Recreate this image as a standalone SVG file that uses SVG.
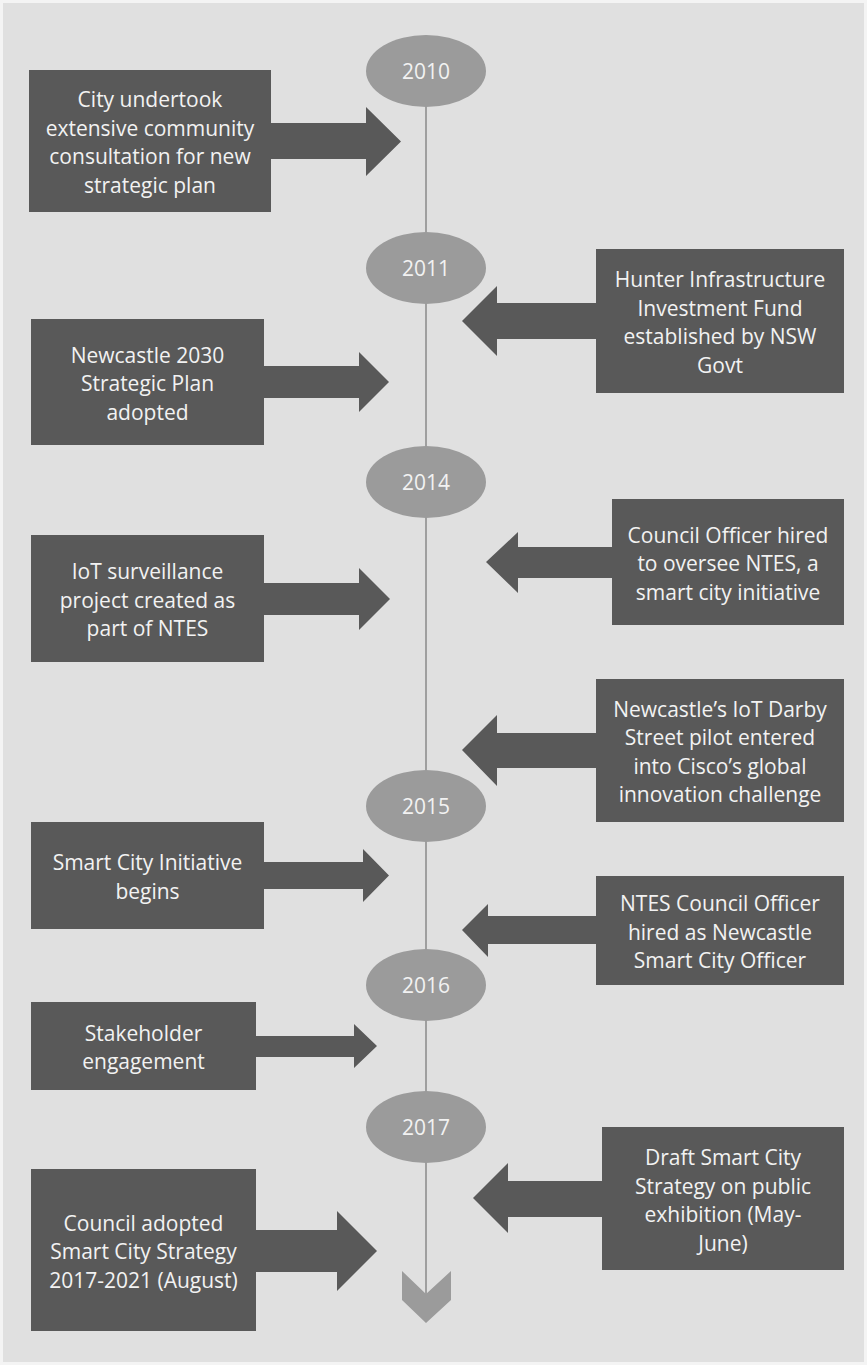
<svg xmlns="http://www.w3.org/2000/svg" width="867" height="1365" viewBox="0 0 867 1365">
<style>
.box{fill:#595959}
.arr{fill:#595959}
.yr{fill:#9b9b9b}
.tl{stroke:#8a8a8a;stroke-width:1.5;fill:none}
.chev{fill:#9b9b9b}
text{font-family:"Open Sans","Noto Sans","DejaVu Sans",sans-serif;font-size:21px;fill:#f2f2f2;text-anchor:middle}
</style>
<rect x="0" y="0" width="867" height="1365" fill="#f4f4f4"/>
<rect x="3" y="3" width="861" height="1359" fill="#e0e0e0"/>

<g id="connectors">
  <line class="tl" x1="426" y1="100" x2="426" y2="1294"/>
  <polygon class="chev" points="402,1271 426,1294 451,1271 451,1300 426,1323 402,1300"/>
  <polygon class="arr" points="271,123 366,123 366,107 401,141.5 366,176 366,159 271,159"/>
  <polygon class="arr" points="264,366 359,366 359,352 389,382 359,412 359,398 264,398"/>
  <polygon class="arr" points="264,583 359,583 359,568 390,599 359,630 359,615 264,615"/>
  <polygon class="arr" points="264,862 363,862 363,849 389,875.5 363,902 363,889 264,889"/>
  <polygon class="arr" points="256,1036 354,1036 354,1024 377,1046 354,1068 354,1057 256,1057"/>
  <polygon class="arr" points="256,1230 337,1230 337,1211 377,1251 337,1291 337,1272 256,1272"/>
  <polygon class="arr" points="596,303 497,303 497,286 462,321 497,356 497,339 596,339"/>
  <polygon class="arr" points="612,547 518,547 518,532 486,562 518,593 518,578 612,578"/>
  <polygon class="arr" points="596,733 497,733 497,715 462,750 497,786 497,768 596,768"/>
  <polygon class="arr" points="596,916 488,916 488,904 462,930 488,957 488,944 596,944"/>
  <polygon class="arr" points="602,1181 508,1181 508,1163 473,1198 508,1233 508,1217 602,1217"/>
</g>

<g id="y2010"><ellipse class="yr" cx="426" cy="71" rx="60" ry="36"/><text x="426" y="78.5">2010</text></g>
<g id="y2011"><ellipse class="yr" cx="426" cy="268" rx="60" ry="36"/><text x="426" y="275.5">2011</text></g>
<g id="y2014"><ellipse class="yr" cx="426" cy="482" rx="60" ry="36"/><text x="426" y="489.5">2014</text></g>
<g id="y2015"><ellipse class="yr" cx="426" cy="806" rx="60" ry="36"/><text x="426" y="813.5">2015</text></g>
<g id="y2016"><ellipse class="yr" cx="426" cy="985" rx="60" ry="36"/><text x="426" y="992.5">2016</text></g>
<g id="y2017"><ellipse class="yr" cx="426" cy="1127" rx="60" ry="36"/><text x="426" y="1134.5">2017</text></g>

<g id="consultation">
  <rect class="box" x="29" y="70" width="242" height="142"/>
  <text x="150" y="107">City undertook</text>
  <text x="150" y="135.7">extensive community</text>
  <text x="150" y="164.3">consultation for new</text>
  <text x="150" y="193">strategic plan</text>
</g>
<g id="plan2030">
  <rect class="box" x="31" y="319" width="233" height="126"/>
  <text x="147.5" y="362.5">Newcastle 2030</text>
  <text x="147.5" y="391">Strategic Plan</text>
  <text x="147.5" y="419.5">adopted</text>
</g>
<g id="iot">
  <rect class="box" x="31" y="535" width="233" height="127"/>
  <text x="147.5" y="579">IoT surveillance</text>
  <text x="147.5" y="607.5">project created as</text>
  <text x="147.5" y="636">part of NTES</text>
</g>
<g id="smartcity">
  <rect class="box" x="31" y="822" width="233" height="107"/>
  <text x="147.5" y="870.25">Smart City Initiative</text>
  <text x="147.5" y="898.75">begins</text>
</g>
<g id="stakeholder">
  <rect class="box" x="31" y="1002" width="225" height="88"/>
  <text x="143.5" y="1040.75">Stakeholder</text>
  <text x="143.5" y="1069.25">engagement</text>
</g>
<g id="adopted">
  <rect class="box" x="31" y="1169" width="225" height="162"/>
  <text x="143.5" y="1230.5">Council adopted</text>
  <text x="143.5" y="1259">Smart City Strategy</text>
  <text x="143.5" y="1287.5">2017-2021 (August)</text>
</g>
<g id="hunter">
  <rect class="box" x="596" y="249" width="248" height="144"/>
  <text x="720" y="287.25">Hunter Infrastructure</text>
  <text x="720" y="315.75">Investment Fund</text>
  <text x="720" y="344.25">established by NSW</text>
  <text x="720" y="372.75">Govt</text>
</g>
<g id="officer">
  <rect class="box" x="612" y="499" width="232" height="126"/>
  <text x="728" y="542.5">Council Officer hired</text>
  <text x="728" y="571">to oversee NTES, a</text>
  <text x="728" y="599.5">smart city initiative</text>
</g>
<g id="darby">
  <rect class="box" x="596" y="679" width="248" height="143"/>
  <text x="720" y="716.75">Newcastle’s IoT Darby</text>
  <text x="720" y="745.25">Street pilot entered</text>
  <text x="720" y="773.75">into Cisco’s global</text>
  <text x="720" y="802.25">innovation challenge</text>
</g>
<g id="ntes">
  <rect class="box" x="596" y="876" width="248" height="109"/>
  <text x="720" y="911">NTES Council Officer</text>
  <text x="720" y="939.5">hired as Newcastle</text>
  <text x="720" y="968">Smart City Officer</text>
</g>
<g id="draft">
  <rect class="box" x="602" y="1127" width="242" height="143"/>
  <text x="723" y="1165">Draft Smart City</text>
  <text x="723" y="1193.5">Strategy on public</text>
  <text x="723" y="1222">exhibition (May-</text>
  <text x="723" y="1250.5">June)</text>
</g>
</svg>
